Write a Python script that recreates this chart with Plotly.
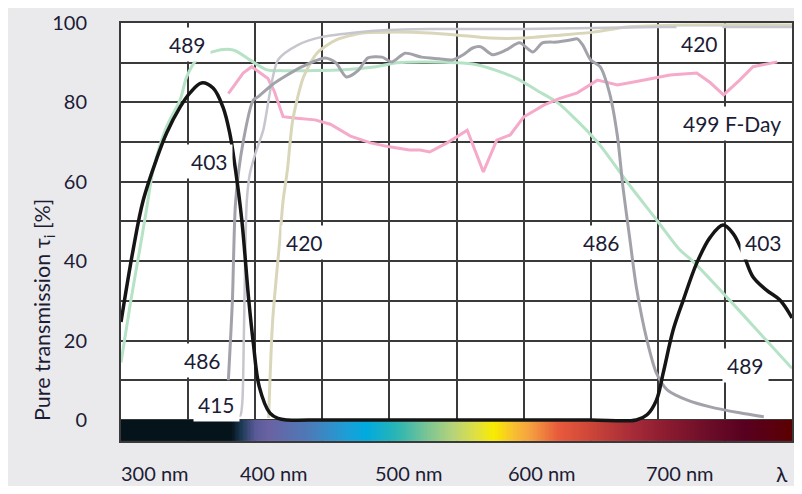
import numpy as np
import plotly.graph_objects as go

# ---------------- data ----------------
f403_wl = [300, 309, 316.6, 327, 334, 344, 351.4, 360, 368.6, 376, 381, 385, 390, 395.2, 398.6, 403, 411, 417, 424, 450, 500, 550, 600, 650, 684, 692, 699, 704, 711.5, 719, 729, 739, 748.6, 756, 763.5, 771, 781, 791, 800]
f403_T = [24.7, 42.8, 55.4, 66.2, 72.3, 78.8, 82.4, 84.9, 83.6, 78.8, 72.3, 63.8, 50.4, 30.2, 19.4, 8.4, 1.7, 0.4, 0, 0, 0, 0, 0, 0, 0, 1.3, 5, 11.8, 22.7, 30.2, 39.5, 46, 49.1, 47, 42, 36, 32.7, 30.2, 25.7]

f489_wl = [300, 307, 314, 319, 324, 334, 344, 349, 356.4, 368.7, 383.5, 396, 408.8, 420, 440, 466, 490, 506, 550, 565, 580, 595, 610, 625, 635, 655, 677, 700, 716, 726, 754, 781, 800]
f489_T = [14.5, 29.4, 43, 53, 63, 73.9, 80.6, 86.5, 90.7, 92.8, 93.2, 90.7, 88.2, 88, 88, 88.2, 89, 90, 90, 89.5, 88, 86, 83, 80, 77, 70, 60, 50, 43, 40, 30, 20, 13]

f499_wl = [380, 391, 397.4, 409.5, 414, 420.8, 431, 444.5, 456, 471, 486, 500, 515, 523, 530, 543, 558, 570, 580, 590, 600, 615, 627, 640, 655, 670, 689, 709, 729, 739, 749, 761, 771, 789]
f499_T = [82.2, 87.4, 89, 86, 83, 76.4, 76, 75.6, 74.5, 71.5, 69.8, 68.8, 68, 68, 67.5, 69.8, 73, 62.5, 70.5, 71.8, 76.3, 79.3, 81, 82.4, 85.6, 84.4, 85.6, 86.9, 87.4, 85, 81.9, 85.6, 89, 90.2]

f486_wl = [380, 383, 385.4, 391, 398.6, 402, 412.5, 422, 435, 452, 460, 468, 476.6, 484, 494.5, 502, 511.6, 524, 537, 547, 555, 562, 568, 577, 587, 597, 607, 614, 625, 635, 640, 644, 650, 657, 664, 670, 674, 679, 684, 692, 699, 707, 722, 739, 761, 779]
f486_T = [10, 30, 55, 70, 80.6, 81.4, 84.4, 86.5, 89, 91.2, 90, 86.4, 88, 91.2, 91.4, 90.2, 92.4, 91.4, 91, 90.7, 92, 93.7, 94, 92, 93.2, 95, 92.7, 95, 95.2, 95.7, 96, 94.5, 90.7, 89, 82.4, 71.3, 58.7, 46, 33.5, 20, 11.8, 7.6, 5, 3.3, 1.8, 0.8]

f415_wl = [386, 389, 390.5, 391.5, 392.5, 393.7, 396, 400, 406, 417, 432, 450, 477, 495, 530, 600, 700, 800]
f415_T = [0.8, 1.2, 5, 20, 40, 55, 62, 67, 73, 90.7, 94.5, 96.5, 97.7, 98.2, 98.5, 98.5, 99, 99]

f420_wl = [410, 413, 418.5, 420.7, 424, 428, 436, 446, 460, 480, 500, 530, 550, 575, 600, 629, 652, 677, 720, 800]
f420_T = [0.5, 25, 46, 55, 63, 75.6, 86.4, 92.4, 95.7, 97.5, 97.7, 97.5, 97, 96.2, 96.2, 97, 97.7, 99, 99.5, 99.5]

# labels placed on the chart: (text, wavelength, transmission)
curve_labels = ["489", "403", "420", "486", "415", "486", "420", "499 F-Day", "403", "489"]
curve_label_wl = [349.6, 366, 437, 360.7, 371.5, 658.4, 731.4, 755.3, 778.7, 765]
curve_label_T = [94.7, 65.2, 44.8, 14.9, 4.0, 44.8, 94.8, 74.7, 44.6, 13.6]

x_tick_wl = [300, 400, 500, 600, 700]
x_tick_text = ["300 nm", "400 nm", "500 nm", "600 nm", "700 nm"]
y_tick_vals = [0, 20, 40, 60, 80, 100]

# ---------------- styling ----------------
FONT = "Lato"
TXT = "#1c1c36"
BG = "#eaeaec"
GRID = "#3a3a3a"

spectrum_stops = [
    (300, "#05131b"), (382, "#05131b"), (390, "#1c3a55"), (400, "#5a5a98"),
    (410, "#6a62a2"), (440, "#4d7ab8"), (470, "#1aa0d8"), (482, "#00aadf"),
    (505, "#28b5b5"), (525, "#70c298"), (548, "#b8d478"), (565, "#e0e040"),
    (578, "#f8ec00"), (592, "#f8c030"), (605, "#f5a040"), (626, "#e85a3c"),
    (650, "#cc4638"), (680, "#a82c38"), (705, "#8c1c30"), (740, "#6a0c28"),
    (765, "#580020"), (785, "#5a0010"), (800, "#5a0000"),
]
colorscale = [[(w - 300) / 500.0, c] for w, c in spectrum_stops]

edges = np.linspace(300, 800, 501)
centers = (edges[:-1] + edges[1:]) / 2

fig = go.Figure()

fig.add_trace(go.Heatmap(
    x=edges, y=[-5.3, 0], z=[centers], colorscale=colorscale,
    zmin=300, zmax=800, showscale=False, hoverinfo="skip",
))

def add_curve(wl, T, color, width, shape="spline", smoothing=0.9):
    fig.add_trace(go.Scatter(
        x=wl, y=T, mode="lines",
        line=dict(color=color, width=width, shape=shape, smoothing=smoothing),
        hoverinfo="skip", showlegend=False,
    ))

add_curve(f489_wl, f489_T, "#b6e2c6", 3)
add_curve(f499_wl, f499_T, "#f4aac8", 3, shape="linear")
add_curve(f420_wl, f420_T, "#d9d6ba", 3, smoothing=0.7)
add_curve(f415_wl, f415_T, "#c6c6ce", 2.5, smoothing=0.7)
add_curve(f486_wl, f486_T, "#a2a2aa", 3, smoothing=0.7)
add_curve(f403_wl, f403_T, "#151515", 3.5, smoothing=1.0)

annotations = []
for t, w, v in zip(curve_labels, curve_label_wl, curve_label_T):
    annotations.append(dict(
        x=w, y=v, xref="x", yref="y", text=t, showarrow=False,
        font=dict(family=FONT, size=21, color=TXT),
        bgcolor="white", borderpad=4, xanchor="center", yanchor="middle",
    ))

x_shifts = [34, 19, 20, 18, 22]
for w, t, s in zip(x_tick_wl, x_tick_text, x_shifts):
    annotations.append(dict(
        x=w, y=0, xref="x", yref="paper", text=t, showarrow=False,
        xshift=s, yshift=-32, xanchor="center", yanchor="middle",
        font=dict(family=FONT, size=20, color=TXT),
    ))
annotations.append(dict(
    x=1, y=0, xref="paper", yref="paper", text="λ", showarrow=False,
    xshift=-10, yshift=-32, xanchor="center", yanchor="middle",
    font=dict(family=FONT, size=21, color=TXT),
))
annotations.append(dict(
    x=0, y=27.7, xref="paper", yref="y", text="Pure transmission τ<sub>i</sub> [%]",
    showarrow=False, textangle=-90, xshift=-78, xanchor="center", yanchor="middle",
    font=dict(family=FONT, size=21.5, color=TXT),
))

# the page body adds an 8px margin, so the figure is offset by 8px
fig.update_layout(
    width=792, height=478,
    margin=dict(l=113, r=8, t=15, b=45),
    paper_bgcolor=BG, plot_bgcolor="white",
    showlegend=False,
    annotations=annotations,
    xaxis=dict(
        range=[300, 800], tickvals=list(range(350, 800, 50)), showticklabels=False,
        showgrid=True, gridcolor=GRID, gridwidth=2, zeroline=False,
        showline=True, mirror=True, linecolor=GRID, linewidth=2, ticks="",
        automargin=False,
    ),
    yaxis=dict(
        range=[-5.3, 100], tickvals=y_tick_vals,
        showgrid=True, gridcolor=GRID, gridwidth=2, zeroline=False,
        minor=dict(dtick=10, tick0=0, showgrid=True, gridcolor=GRID, gridwidth=2, ticks=""),
        showline=True, mirror=True, linecolor=GRID, linewidth=2, ticks="",
        tickfont=dict(family=FONT, size=20, color=TXT), ticklabelstandoff=28,
        automargin=False,
    ),
)

fig.write_html("out.html")
